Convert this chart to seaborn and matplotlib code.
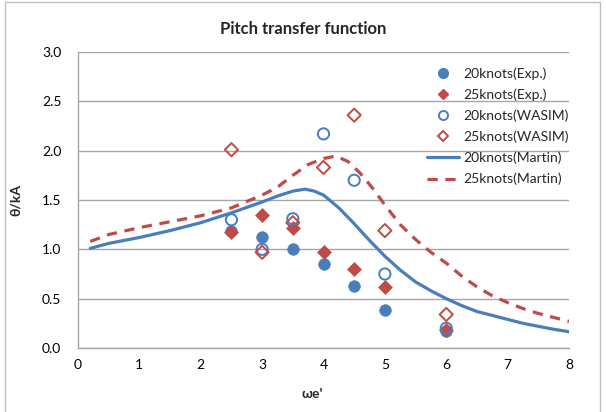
import matplotlib
matplotlib.use("Agg")
import matplotlib.pyplot as plt
import seaborn as sns
from matplotlib.lines import Line2D

# Encounter frequency samples (experiments and WASIM)
omega = [2.5, 3.0, 3.5, 4.0, 4.5, 5.0, 6.0]
exp_20 = [1.19, 1.12, 1.00, 0.85, 0.63, 0.39, 0.17]
exp_25 = [1.18, 1.35, 1.22, 0.97, 0.80, 0.62, 0.18]
wasim_20 = [1.30, 1.00, 1.31, 2.17, 1.70, 0.75, 0.20]
wasim_25 = [2.01, 0.97, 1.27, 1.83, 2.36, 1.19, 0.34]

# Martin theory curves
martin_x20 = [0.2, 0.5, 1.0, 1.5, 2.0, 2.5, 3.0, 3.25, 3.5, 3.7, 3.85, 4.0, 4.25,
              4.5, 4.75, 5.0, 5.25, 5.5, 5.75, 6.0, 6.25, 6.5, 6.75, 7.0, 7.25,
              7.5, 7.75, 8.0]
martin_20 = [1.01, 1.06, 1.12, 1.19, 1.27, 1.37, 1.48, 1.54, 1.59, 1.61, 1.59, 1.55, 1.42,
             1.26, 1.09, 0.93, 0.79, 0.67, 0.58, 0.50, 0.43, 0.37, 0.33, 0.29, 0.25,
             0.22, 0.19, 0.165]
martin_x25 = [0.2, 0.5, 1.0, 1.5, 2.0, 2.5, 3.0, 3.25, 3.5, 3.75, 4.0, 4.2, 4.4,
              4.6, 4.8, 5.0, 5.25, 5.5, 5.75, 6.0, 6.25, 6.5, 6.75, 7.0, 7.25,
              7.5, 7.75, 8.0]
martin_25 = [1.08, 1.15, 1.22, 1.28, 1.34, 1.42, 1.55, 1.63, 1.75, 1.86, 1.92, 1.945, 1.89,
             1.77, 1.62, 1.45, 1.25, 1.10, 0.97, 0.86, 0.73, 0.62, 0.53, 0.46, 0.40,
             0.35, 0.31, 0.27]

x_ticks = [0, 1, 2, 3, 4, 5, 6, 7, 8]
y_ticks = [0.0, 0.5, 1.0, 1.5, 2.0, 2.5, 3.0]

BLUE = "#4A7EBB"
RED = "#BE4B48"
GRID = "#A6A6A6"

sns.set_theme(style="white")
plt.rcParams["font.family"] = ["Lato", "DejaVu Sans"]

fig = plt.figure(figsize=(6.06, 4.12), dpi=100)
ax = fig.add_axes([78 / 606, 1 - 348 / 412, 491 / 606, 296 / 412])

# chart border
fig.add_artist(plt.Rectangle((5 / 606, -0.05), 595 / 606, 1.05 - 2 / 412,
                             transform=fig.transFigure, fill=False,
                             edgecolor="#BFBFBF", linewidth=1.0, zorder=0))

sns.lineplot(x=martin_x20, y=martin_20, ax=ax, color=BLUE, linewidth=2.3,
             zorder=2, legend=False)
sns.lineplot(x=martin_x25, y=martin_25, ax=ax, color=RED, linewidth=2.3,
             zorder=2, legend=False)
ax.lines[-1].set_dashes([3.2, 2.4])

sns.scatterplot(x=omega, y=exp_20, ax=ax, marker="o", s=70, color=BLUE,
                edgecolor=BLUE, linewidth=0.5, zorder=3)
sns.scatterplot(x=omega, y=exp_25, ax=ax, marker="D", s=50, color=RED,
                edgecolor=RED, linewidth=0.5, zorder=3)
sns.scatterplot(x=omega, y=wasim_20, ax=ax, marker="o", s=65, facecolor="none",
                edgecolor=BLUE, linewidth=1.4, zorder=4)
sns.scatterplot(x=omega, y=wasim_25, ax=ax, marker="D", s=45, facecolor="none",
                edgecolor=RED, linewidth=1.4, zorder=4)

ax.set_xlim(0, 8)
ax.set_ylim(0, 3.0)
ax.set_xticks(x_ticks)
ax.set_yticks(y_ticks)
ax.set_xticklabels([str(v) for v in x_ticks])
ax.set_yticklabels([f"{v:.1f}" for v in y_ticks])
ax.yaxis.grid(True, color=GRID, linewidth=1.0)
ax.xaxis.grid(False)
ax.set_axisbelow(True)
for side in ["top", "right"]:
    ax.spines[side].set_visible(False)
for side in ["left", "bottom"]:
    ax.spines[side].set_color(GRID)
    ax.spines[side].set_linewidth(1.0)
ax.tick_params(axis="both", labelsize=10, colors="#000000", length=0, pad=8)
ax.tick_params(axis="y", length=3, color=GRID, width=1.0, pad=9)

ax.set_xlabel("ωe'", fontsize=10, fontweight="bold")
ax.xaxis.set_label_coords(0.478, -0.135)
ax.set_ylabel("θ/kA", fontsize=10, fontweight="bold")
ax.yaxis.set_label_coords(-0.115, 0.5)

fig.text(0.5, 1 - 29 / 412, "Pitch transfer function", ha="center", va="center",
         fontsize=12, fontweight="bold")

handles = [
    Line2D([], [], linestyle="none", marker="o", markersize=7, color=BLUE),
    Line2D([], [], linestyle="none", marker="D", markersize=5, color=RED),
    Line2D([], [], linestyle="none", marker="o", markersize=6.5,
           markerfacecolor="none", markeredgecolor=BLUE, markeredgewidth=1.4),
    Line2D([], [], linestyle="none", marker="D", markersize=5,
           markerfacecolor="none", markeredgecolor=RED, markeredgewidth=1.4),
    Line2D([], [], color=BLUE, linewidth=2.3),
    Line2D([], [], color=RED, linewidth=2.3, dashes=[3.2, 2.4]),
]
labels = ["20knots(Exp.)", "25knots(Exp.)", "20knots(WASIM)", "25knots(WASIM)",
          "20knots(Martin)", "25knots(Martin)"]
ax.legend(handles, labels, loc="upper left", bbox_to_anchor=(0.70, 0.968),
          frameon=False, fontsize=10, handlelength=2.3, handletextpad=0.3,
          labelspacing=0.62, borderaxespad=0)

fig.savefig("out.png", dpi=100)
